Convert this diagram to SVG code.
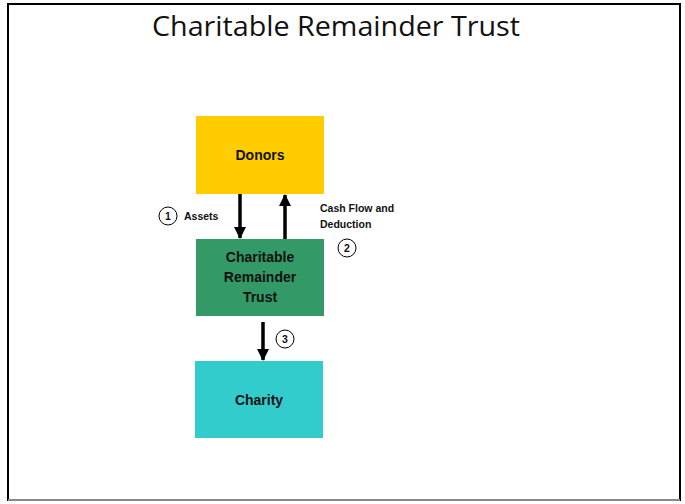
<svg xmlns="http://www.w3.org/2000/svg" width="685" height="504" viewBox="0 0 685 504">
<style>
.lbl{font-family:"Liberation Sans",Arial,sans-serif;font-weight:bold;fill:#111;}
.box{font-size:14px;text-anchor:middle;}
.sm{font-size:10.5px;}
.num{font-size:10.5px;text-anchor:middle;}
.circ{fill:#fff;stroke:#000;stroke-width:1;}
.arr{stroke:#000;stroke-width:3.5;fill:none;}
</style>
<defs>
<marker id="ah" viewBox="0 0 12 12" refX="11" refY="6" markerWidth="12" markerHeight="12" markerUnits="userSpaceOnUse" orient="auto">
<path d="M0,0 L12,6 L0,12 Z" fill="#000"/>
</marker>
</defs>
<rect x="0" y="0" width="685" height="504" fill="#fff"/>
<rect x="8" y="4" width="672" height="496" fill="#fff" stroke="#000" stroke-width="2"/>
<line x1="8" y1="500" x2="680" y2="500" stroke="#888" stroke-width="2"/>
<text x="336" y="36" font-family="'Open Sans','Liberation Sans',sans-serif" font-size="27" text-anchor="middle" fill="#111" textLength="368" lengthAdjust="spacingAndGlyphs">Charitable Remainder Trust</text>
<g id="donors">
<rect x="196" y="116" width="128" height="78" fill="#FFCC00"/>
<text class="lbl box" x="260" y="160">Donors</text>
</g>
<g id="crt">
<rect x="196" y="239" width="128" height="77" fill="#339966"/>
<text class="lbl box" x="260" y="262">Charitable</text>
<text class="lbl box" x="260" y="282">Remainder</text>
<text class="lbl box" x="260" y="302">Trust</text>
</g>
<g id="charity">
<rect x="195" y="361" width="128" height="77" fill="#33CCCC"/>
<text class="lbl box" x="259" y="405">Charity</text>
</g>
<g id="connectors">
<line class="arr" x1="240" y1="194" x2="240" y2="238" marker-end="url(#ah)"/>
<line class="arr" x1="285" y1="239" x2="285" y2="195" marker-end="url(#ah)"/>
<line class="arr" x1="263" y1="322" x2="263" y2="360" marker-end="url(#ah)"/>
</g>
<g id="labels">
<circle class="circ" cx="168" cy="216" r="9"/>
<text class="lbl num" x="168" y="220">1</text>
<text class="lbl sm" x="184" y="220">Assets</text>
<text class="lbl sm" x="320" y="212">Cash Flow and</text>
<text class="lbl sm" x="320" y="228">Deduction</text>
<circle class="circ" cx="347" cy="248" r="9"/>
<text class="lbl num" x="347" y="252">2</text>
<circle class="circ" cx="285" cy="339" r="9"/>
<text class="lbl num" x="285" y="343">3</text>
</g>
</svg>
